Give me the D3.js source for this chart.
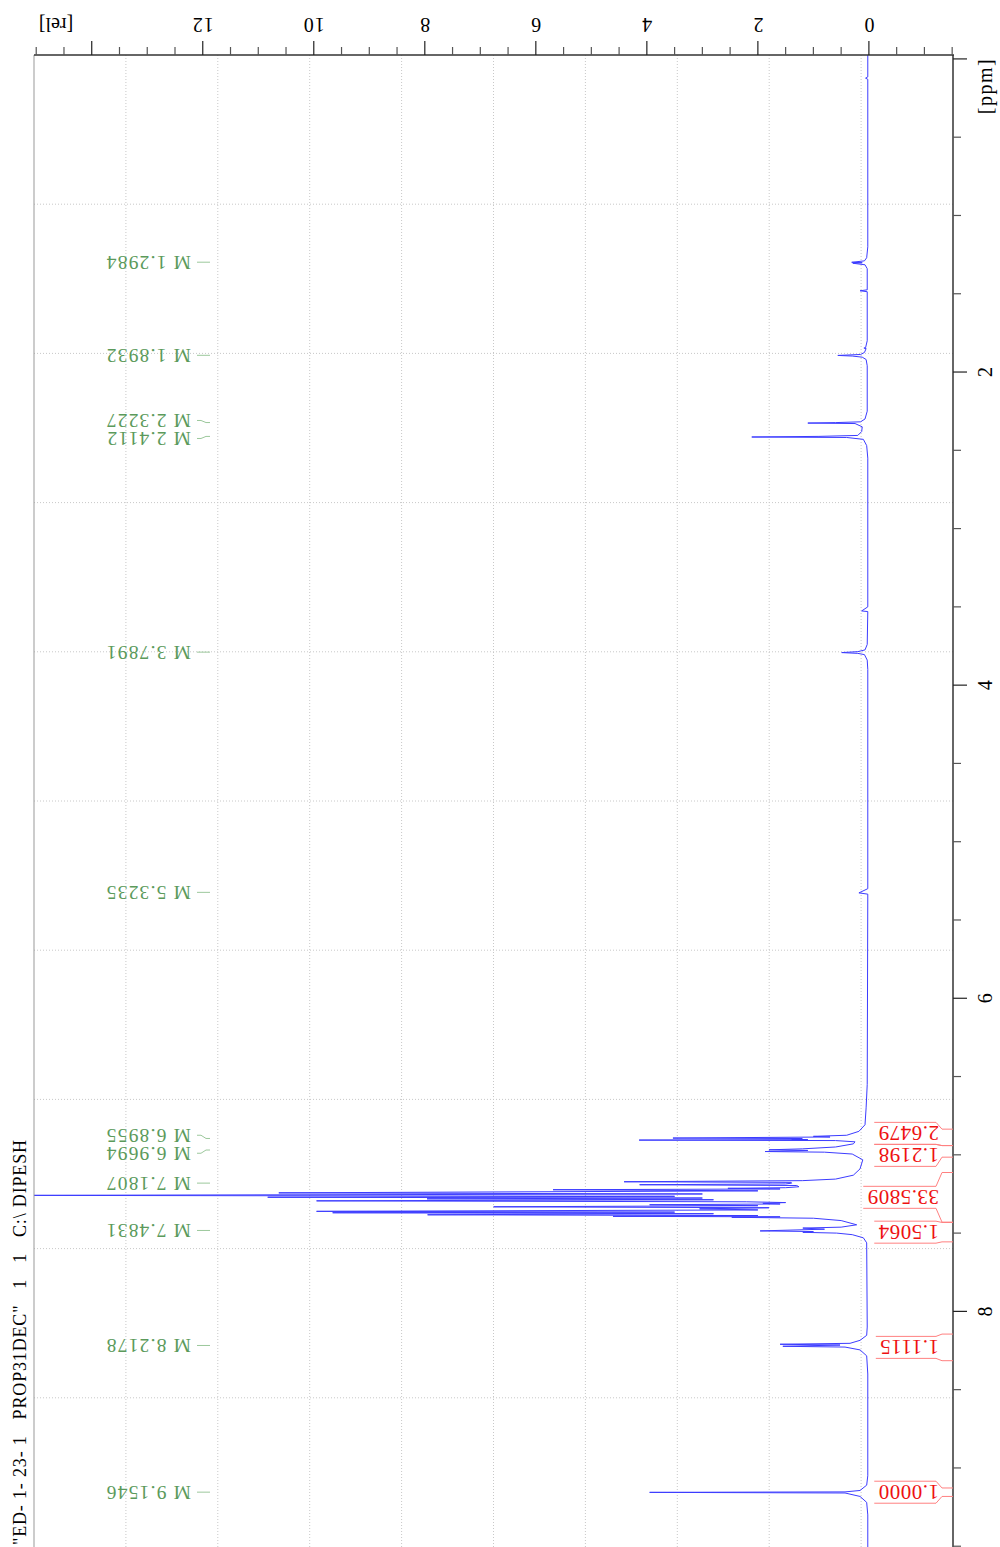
<!DOCTYPE html>
<html lang="en">
<head>
<meta charset="UTF-8" />
<script src="https://d3js.org/d3.v7.min.js"></script>
<style>
  body { margin: 0; background: #fff; }
  text { font-family: "Liberation Serif", "Times New Roman", serif; }
</style>
</head>
<body>
<svg width="1000" height="1547"></svg>
<script>
// spectrum trace, [ppm, rel intensity]
var spectrum = [
  [-0.03, 0.02], [0.115, 0.02], [0.123, 0.06], [0.13, 0.02],
  [1.20, 0.02], [1.27, 0.04], [1.29, 0.08], [1.299, 0.31], [1.302, 0.12], [1.305, 0.29], [1.315, 0.07], [1.34, 0.03],
  [1.475, 0.03], [1.481, 0.16], [1.487, 0.03],
  [1.80, 0.03], [1.845, 0.06], [1.847, 0.09], [1.85, 0.05], [1.875, 0.08], [1.888, 0.15], [1.894, 0.56], [1.898, 0.3], [1.905, 0.12], [1.92, 0.05], [1.96, 0.03],
  [2.25, 0.03], [2.30, 0.07], [2.318, 0.15], [2.323, 0.6], [2.326, 1.10], [2.329, 0.25], [2.35, 0.12], [2.38, 0.13],
  [2.405, 0.2], [2.411, 0.9], [2.415, 2.11], [2.418, 0.4], [2.43, 0.1], [2.47, 0.04], [2.55, 0.02],
  [3.50, 0.02], [3.526, 0.13], [3.53, 0.02],
  [3.74, 0.03], [3.775, 0.07], [3.786, 0.2], [3.792, 0.49], [3.797, 0.2], [3.805, 0.08], [3.84, 0.03], [3.90, 0.02],
  [5.30, 0.02], [5.327, 0.18], [5.335, 0.02],
  [6.55, 0.03], [6.70, 0.05], [6.808, 0.07], [6.85, 0.18], [6.875, 0.4], [6.882, 1.0], [6.886, 0.7],
  [6.893, 3.53], [6.896, 1.2], [6.901, 1.39], [6.903, 1.1], [6.906, 4.14], [6.909, 0.6], [6.917, 0.25],
  [6.93, 0.28], [6.95, 0.6], [6.962, 1.2], [6.968, 1.80], [6.972, 1.1], [6.979, 1.87], [6.983, 0.8], [6.995, 0.3],
  [7.032, 0.11], [7.09, 0.16], [7.13, 0.28], [7.155, 0.6], [7.165, 1.2],
  [7.172, 4.41], [7.176, 1.4], [7.181, 1.39], [7.186, 1.5], [7.191, 4.13], [7.196, 1.3], [7.204, 1.26], [7.21, 1.5],
  [7.214, 2.54], [7.218, 1.6], [7.223, 5.69], [7.23, 2.0], [7.243, 10.63], [7.25, 3.0], [7.259, 15.5], [7.265, 3.5],
  [7.271, 10.83], [7.276, 3.0], [7.281, 7.96], [7.287, 2.8], [7.294, 9.95], [7.30, 2.2], [7.305, 1.5], [7.310, 1.91],
  [7.314, 1.6], [7.319, 3.95], [7.325, 2.0], [7.332, 6.76], [7.338, 1.8], [7.345, 3.05], [7.352, 2.0], [7.361, 9.95],
  [7.366, 3.5], [7.370, 9.66], [7.376, 2.8], [7.383, 7.95], [7.388, 2.0], [7.393, 4.61], [7.396, 1.6], [7.399, 2.47],
  [7.405, 1.0], [7.42, 0.5], [7.447, 0.22], [7.462, 0.5], [7.468, 1.19], [7.475, 0.8], [7.486, 1.96], [7.49, 1.0],
  [7.495, 1.19], [7.50, 0.58], [7.51, 0.3], [7.53, 0.1], [7.562, 0.04],
  [8.10, 0.03], [8.153, 0.04], [8.185, 0.16], [8.204, 0.34], [8.210, 1.60], [8.215, 0.52], [8.223, 1.55], [8.228, 0.43],
  [8.246, 0.16], [8.284, 0.04], [8.40, 0.02],
  [9.05, 0.02], [9.11, 0.04], [9.144, 0.16], [9.153, 0.43], [9.156, 3.95], [9.16, 0.43], [9.182, 0.16], [9.22, 0.04],
  [9.30, 0.02], [9.51, 0.02]
];

var peakPpm = [1.2984, 1.8932, 2.3227, 2.4112, 3.7891, 5.3235, 6.8955, 6.9694, 7.1807, 7.4831, 8.2178, 9.1546];

var integralFrom  = [6.836, 6.941, 7.113, 7.432, 8.145, 9.128];
var integralTo    = [6.941, 7.015, 7.430, 7.556, 8.315, 9.182];
var integralValue = ["2.6479", "1.2198", "33.5809", "1.5064", "1.1115", "1.0000"];

var relLabels = [0, 2, 4, 6, 8, 10, 12];
var ppmLabels = [2, 4, 6, 8];
var title = '"ED- 1- 23- 1   PROP31DEC"   1   1   C:\\ DIPESH';

// layout
var pL = 34, pR = 953, pT = 55, pB = 1547;
var svg = d3.select("svg");

var x = d3.scaleLinear().domain([-1.515, 15.04]).range([pR, pL]);
var y = d3.scaleLinear().domain([-0.025, 9.505]).range([pT, pB]);

// dotted grid, 10 x 10
var gx = d3.range(1, 10).map(function(i) { return pL + i * (pR - pL) / 10; });
var gy = d3.range(1, 10).map(function(i) { return pT + i * (pB - pT) / 10; });
svg.append("g").selectAll("line").data(gx).enter().append("line")
  .attr("x1", function(d) { return d; }).attr("x2", function(d) { return d; })
  .attr("y1", pT).attr("y2", pB)
  .attr("stroke", "#c8c8c8").attr("stroke-dasharray", "1 2");
svg.append("g").selectAll("line").data(gy).enter().append("line")
  .attr("y1", function(d) { return d; }).attr("y2", function(d) { return d; })
  .attr("x1", pL).attr("x2", pR)
  .attr("stroke", "#c8c8c8").attr("stroke-dasharray", "1 2");

// spectrum
svg.append("clipPath").attr("id", "clip").append("rect")
  .attr("x", pL).attr("y", pT).attr("width", pR - pL).attr("height", pB - pT);

var line = d3.line()
  .x(function(d) { return x(d[1]); })
  .y(function(d) { return y(d[0]); });

svg.append("path")
  .datum(spectrum)
  .attr("clip-path", "url(#clip)")
  .attr("d", line)
  .attr("fill", "none")
  .attr("stroke", "#3c3cff")
  .attr("stroke-width", 1);

// frame
svg.append("line").attr("x1", pL).attr("x2", pL).attr("y1", pT).attr("y2", pB)
  .attr("stroke", "#999").attr("stroke-width", 1);
svg.append("line").attr("x1", pL).attr("x2", pR + 1).attr("y1", pT).attr("y2", pT)
  .attr("stroke", "#333").attr("stroke-width", 1.5);
svg.append("line").attr("x1", pR).attr("x2", pR).attr("y1", pT).attr("y2", pB)
  .attr("stroke", "#333").attr("stroke-width", 1.5);

// top axis (rel)
var relTicks = d3.range(-1.5, 15.01, 0.5);
svg.append("g").selectAll("line").data(relTicks).enter().append("line")
  .attr("x1", function(d) { return x(d); }).attr("x2", function(d) { return x(d); })
  .attr("y1", pT)
  .attr("y2", function(d) { return (d >= 0 && d % 2 === 0) ? pT - 14 : pT - 8; })
  .attr("stroke", function(d) { return (d >= 0 && d % 2 === 0) ? "#222" : "#555"; })
  .attr("stroke-width", 1.2);

svg.append("g").selectAll("text").data(relLabels).enter().append("text")
  .attr("x", function(d) { return x(d); })
  .attr("y", 25)
  .attr("transform", function(d) { return "rotate(180," + x(d) + ",25)"; })
  .attr("text-anchor", "middle")
  .attr("dominant-baseline", "central")
  .attr("font-size", 20)
  .attr("letter-spacing", 1)
  .text(function(d) { return d; });

svg.append("text").attr("x", 56).attr("y", 25)
  .attr("transform", "rotate(180,56,25)")
  .attr("text-anchor", "middle").attr("dominant-baseline", "central")
  .attr("font-size", 20).text("[rel]");

// right axis (ppm)
var ppmTicks = d3.range(0, 9.51, 0.5);
svg.append("g").selectAll("line").data(ppmTicks).enter().append("line")
  .attr("y1", function(d) { return y(d); }).attr("y2", function(d) { return y(d); })
  .attr("x1", pR)
  .attr("x2", function(d) { return d % 2 === 0 ? pR + 14 : pR + 8; })
  .attr("stroke", function(d) { return d % 2 === 0 ? "#222" : "#555"; })
  .attr("stroke-width", 1.2);

svg.append("g").selectAll("text").data(ppmLabels).enter().append("text")
  .attr("x", 985)
  .attr("y", function(d) { return y(d); })
  .attr("transform", function(d) { return "rotate(-90,985," + y(d) + ")"; })
  .attr("text-anchor", "middle")
  .attr("dominant-baseline", "central")
  .attr("font-size", 20)
  .text(function(d) { return d; });

svg.append("text").attr("x", 985).attr("y", 86)
  .attr("transform", "rotate(-90,985,86)")
  .attr("text-anchor", "middle").attr("dominant-baseline", "central")
  .attr("font-size", 20).attr("letter-spacing", 1.5).text("[ppm]");

// title along the left edge
svg.append("text").attr("x", 20).attr("y", 1545)
  .attr("transform", "rotate(-90,20,1545)")
  .attr("dominant-baseline", "central")
  .attr("font-size", 18)
  .style("white-space", "pre")
  .attr("textLength", 405).attr("lengthAdjust", "spacing")
  .text(title);

// peak labels, pushed apart when too close
var labs = peakPpm.map(function(p) { return { p: p, py: y(p), ly: y(p) }; });
for (var it = 0; it < 30; it++) {
  for (var i = 1; i < labs.length; i++) {
    var gap = labs[i].ly - labs[i - 1].ly;
    if (gap < 18) {
      var s = (18 - gap) / 2;
      labs[i - 1].ly -= s;
      labs[i].ly += s;
    }
  }
}
var pk = svg.append("g");
pk.selectAll("path").data(labs).enter().append("path")
  .attr("d", function(d) {
    return "M210," + d.py + "L206," + d.py + "L201," + d.ly + "L197," + d.ly;
  })
  .attr("fill", "none").attr("stroke", "#9cc89c").attr("stroke-width", 1);
pk.selectAll("text").data(labs).enter().append("text")
  .attr("x", 191)
  .attr("y", function(d) { return d.ly; })
  .attr("transform", function(d) { return "rotate(180,191," + d.ly + ")"; })
  .attr("dominant-baseline", "central")
  .attr("font-size", 19.5)
  .attr("letter-spacing", 1.2)
  .attr("fill", "#5b9a5b")
  .text(function(d) { return "M " + d.p.toFixed(4); });

// integrals
var boxH = 22;
var ints = integralValue.map(function(v, i) {
  var a = y(integralFrom[i]), b = y(integralTo[i]), c = (a + b) / 2;
  return { v: v, a: a, b: b, t: c - boxH / 2, btm: c + boxH / 2 };
});
for (var it2 = 0; it2 < 30; it2++) {
  for (var j = 1; j < ints.length; j++) {
    var ov = ints[j - 1].btm - ints[j].t;
    if (ov > 0) {
      ints[j - 1].t -= ov / 2; ints[j - 1].btm -= ov / 2;
      ints[j].t += ov / 2; ints[j].btm += ov / 2;
    }
  }
}
var ig = svg.append("g");
ints.forEach(function(d) {
  var c = (d.t + d.btm) / 2;
  var t = ig.append("text")
    .attr("x", 939).attr("y", c)
    .attr("transform", "rotate(180,939," + c + ")")
    .attr("dominant-baseline", "central")
    .attr("font-size", 21)
    .attr("letter-spacing", 0.5)
    .attr("fill", "#ee1111")
    .text(d.v);
  var len = t.node().getComputedTextLength();
  var l = 939 - len - 4;
  ig.append("path")
    .attr("d", "M" + l + "," + d.t + "H936L942," + d.a + "H" + pR +
               "M" + l + "," + d.btm + "H936L942," + d.b + "H" + pR)
    .attr("fill", "none").attr("stroke", "#ff8080").attr("stroke-width", 1);
});
</script>
</body>
</html>
